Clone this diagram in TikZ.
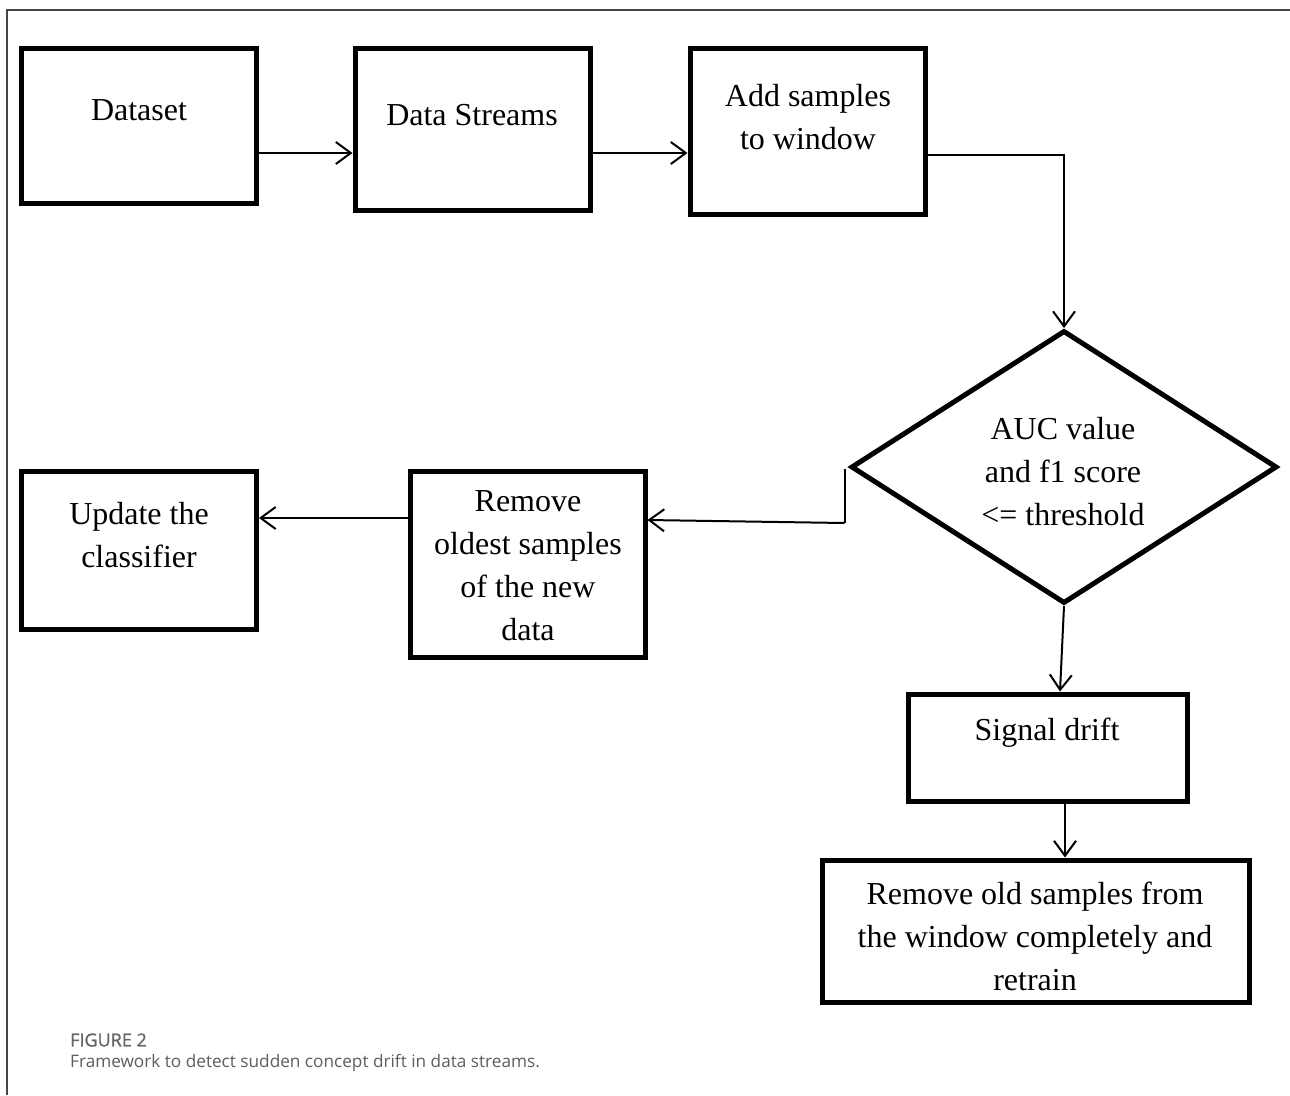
\documentclass[tikz,border=0pt]{standalone}
\usepackage{fontspec}
\setmainfont{Liberation Serif}
\newfontfamily\capfont{Open Sans}
\newfontfamily\capfontsb{Open Sans}[FakeBold=1.2]
\usetikzlibrary{shapes.geometric,arrows.meta}
\definecolor{capgray}{HTML}{5E5E5E}
\definecolor{figgray}{HTML}{666666}
\definecolor{framegray}{HTML}{444444}
\tikzset{
  box/.style={draw=black, line width=5pt, rectangle, inner sep=0pt},
  dia/.style={draw=black, line width=5pt, diamond, inner sep=0pt, aspect=1.55},
  txt/.style={align=center, inner sep=0pt, font=\fontsize{32}{43}\selectfont},
  arr/.style={draw=black, line width=2pt, -{Straight Barb[length=15pt,width=22pt,line width=2pt]}},
  frameline/.style={draw=framegray, line width=1.6pt},
}
\begin{document}
\begin{tikzpicture}[x=1pt,y=-1pt]
\useasboundingbox (0,0) rectangle (1290,1095);
\fill[white] (0,0) rectangle (1290,1095);
\draw[frameline] (1290,10) -- (7,10) -- (7,1095);

% boxes
\node[box, minimum width=235pt, minimum height=155pt] (ds) at (139,125.5) {};
\node[box, minimum width=235pt, minimum height=162pt] (st) at (472.5,129) {};
\node[box, minimum width=235pt, minimum height=166pt] (ad) at (807.5,131) {};
\node[dia, minimum width=426pt, minimum height=273pt] (dm) at (1064,467) {};
\node[box, minimum width=235pt, minimum height=186pt] (ro) at (527.5,564) {};
\node[box, minimum width=235pt, minimum height=158pt] (up) at (139,550) {};
\node[box, minimum width=279pt, minimum height=107pt] (sg) at (1047.5,747.5) {};
\node[box, minimum width=427pt, minimum height=142pt] (rm) at (1035.5,931) {};

% texts
\node[txt] (tds) at (139,110) {Dataset};
\node[txt] (tst) at (472,115) {Data Streams};
\node[txt] (tad) at (808,117) {Add samples\\to window};
\node[txt] (tdm) at (1063,472) {AUC value\\and f1 score\\<= threshold};
\node[txt] (tro) at (528,566) {Remove\\oldest samples\\of the new\\data};
\node[txt] (tup) at (139,535) {Update the\\classifier};
\node[txt] (tsg) at (1047,733) {Signal drift};
\node[txt] (trm) at (1035,936) {Remove old samples from\\the window completely and\\retrain};

% connectors
\draw[arr] ([yshift=-27.5pt]ds.east) coordinate (a1) -- (a1 -| st.west);
\draw[arr] ([yshift=-24pt]st.east) coordinate (a2) -- (a2 -| ad.west);
\draw[arr] ([yshift=-24pt]ad.east) -| (dm.north);
\draw[line width=2pt] ([xshift=-4pt,yshift=-2pt]dm.west) coordinate (k1) -- ++(0,54) coordinate (k2);
\draw[arr] (k2) -- ([yshift=44pt]ro.east);
\draw[arr] ([yshift=46pt]ro.west) coordinate (a4) -- (a4 -| up.east);
\draw[arr] (dm.south) -- ([xshift=12.5pt]sg.north);
\draw[arr] ([xshift=17.5pt]sg.south) coordinate (a6) -- (a6 |- rm.north);

% caption
\node[anchor=west, inner sep=0pt, text=figgray, font=\capfontsb\fontsize{18}{21}\selectfont] (fig) at (70,1040) {FIGURE 2};
\node[anchor=west, inner sep=0pt, text=capgray, font=\capfont\fontsize{17.2}{21}\selectfont] (cap) at (70,1063) {Framework to detect sudden concept drift in data streams.};
\end{tikzpicture}
\end{document}
